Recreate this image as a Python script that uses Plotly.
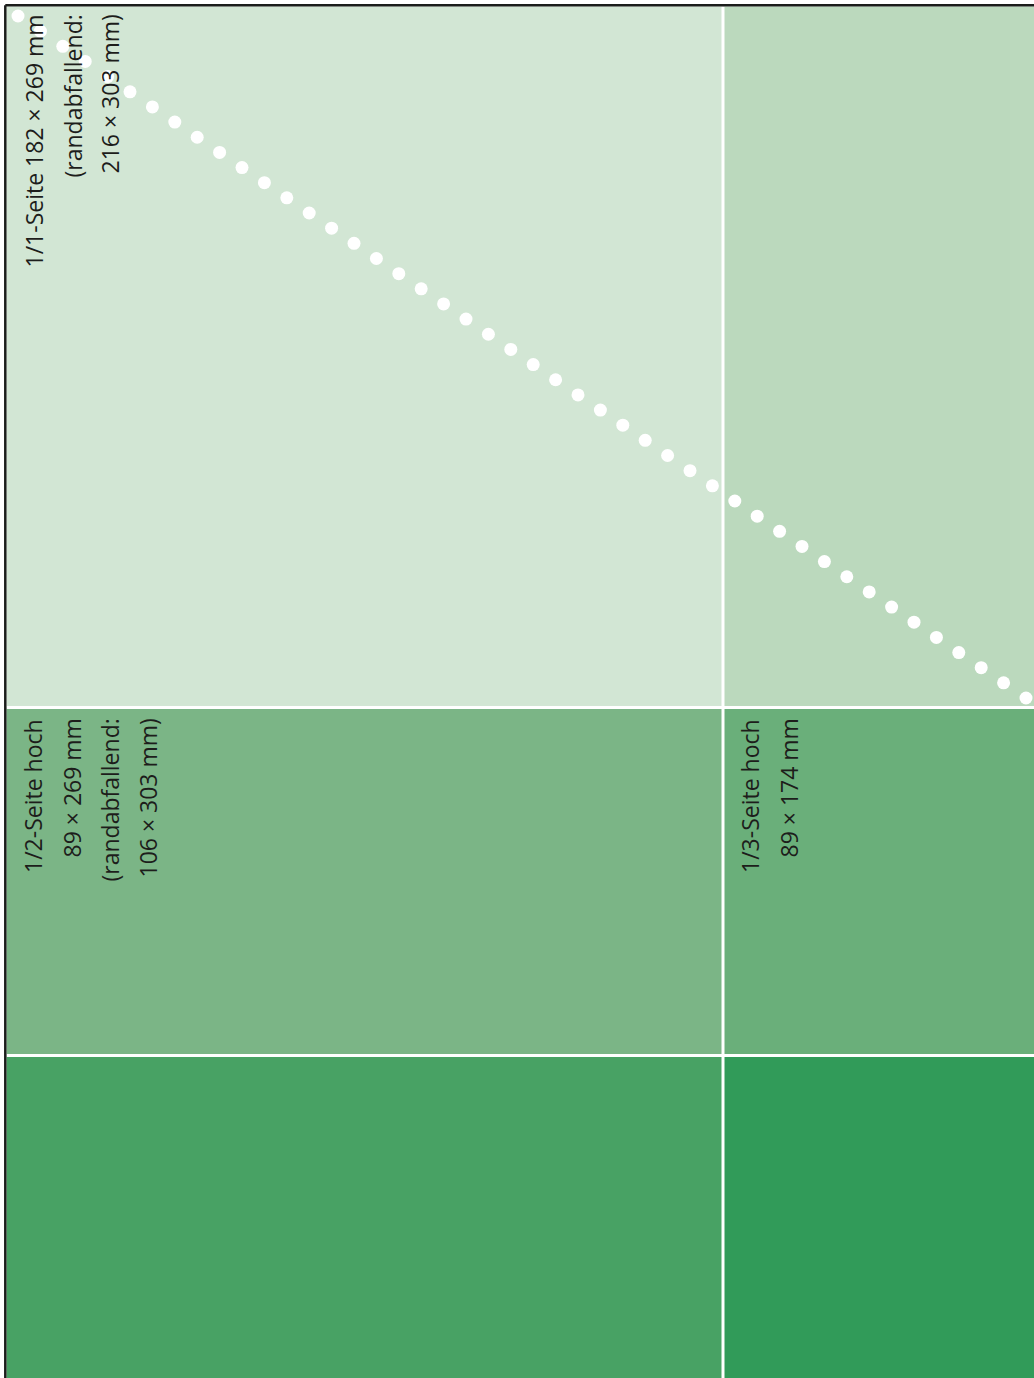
import numpy as np
import plotly.graph_objects as go

# ---- data: ad-format layout diagram (units = diagram pixels) ----
col_edges = [6.5, 723, 1034]          # left column / right column boundaries
row_edges = [6.5, 707.5, 1055.5, 1378]  # rows: 1/1, middle, bottom
cell_colors = [
    ["#d2e6d4", "#bbd9bd"],
    ["#7bb586", "#6aaf7a"],
    ["#48a264", "#319b59"],
]

block_1_1 = ["1/1-Seite 182 × 269 mm", "(randabfallend:", "216 × 303 mm)"]
block_1_2 = ["1/2-Seite hoch", "89 × 269 mm", "(randabfallend:", "106 × 303 mm)"]
block_1_3 = ["1/3-Seite hoch", "89 × 174 mm"]

diag_start = (18, 16)
diag_end = (1026, 698)
n_dots = 46

W, H = 1034, 1378
fig = go.Figure()

shapes = []
# cells
for r in range(3):
    for c in range(2):
        shapes.append(dict(type="rect", xref="x", yref="y",
                           x0=col_edges[c], x1=col_edges[c + 1] + (20 if c == 1 else 0),
                           y0=row_edges[r], y1=row_edges[r + 1] + (20 if r == 2 else 0),
                           fillcolor=cell_colors[r][c], line=dict(width=0), layer="below"))
# white separators
shapes.append(dict(type="line", xref="x", yref="y", x0=col_edges[1], x1=col_edges[1],
                   y0=row_edges[0], y1=H + 20, line=dict(color="white", width=3)))
for yv in row_edges[1:3]:
    shapes.append(dict(type="line", xref="x", yref="y", x0=col_edges[0], x1=W + 20,
                       y0=yv, y1=yv, line=dict(color="white", width=3)))
# page outline (top / left)
shapes.append(dict(type="line", xref="x", yref="y", x0=5.3, x1=W + 20, y0=5.3, y1=5.3,
                   line=dict(color="#1b1d1b", width=2.5)))
shapes.append(dict(type="line", xref="x", yref="y", x0=5.3, x1=5.3, y0=5.3, y1=H + 20,
                   line=dict(color="#1b1d1b", width=2.5)))

# dotted diagonal
dx = np.linspace(diag_start[0], diag_end[0], n_dots)
dy = np.linspace(diag_start[1], diag_end[1], n_dots)
fig.add_trace(go.Scatter(x=dx, y=dy, mode="markers",
                         marker=dict(size=13, color="white", line=dict(width=0)),
                         hoverinfo="skip", showlegend=False, cliponaxis=False))

font = dict(family="Open Sans", size=23, color="#1d1d1b")
annotations = []
def add_block(lines, xs, ytop):
    for txt, xv in zip(lines, xs):
        annotations.append(dict(x=xv, y=ytop, xref="x", yref="y", text=txt,
                                textangle=-90, showarrow=False, xanchor="center",
                                yanchor="top", font=font, borderpad=0))

add_block(block_1_1, [33, 72, 109], 14)
add_block(block_1_2, [33, 71, 109, 147], 718)
add_block(block_1_3, [750, 788], 718)

fig.update_layout(
    width=W, height=H, margin=dict(l=0, r=0, t=0, b=0),
    paper_bgcolor="white", plot_bgcolor="white",
    xaxis=dict(range=[0, W], visible=False, fixedrange=True),
    yaxis=dict(range=[H, 0], visible=False, fixedrange=True),
    shapes=shapes, annotations=annotations,
)
fig.write_html("out.html", config={"displayModeBar": False})

with open("out.html", "r", encoding="utf-8") as f:
    html = f.read()
html = html.replace("<head>", "<head><style>html,body{margin:0;padding:0;overflow:hidden;}</style>", 1)
with open("out.html", "w", encoding="utf-8") as f:
    f.write(html)
